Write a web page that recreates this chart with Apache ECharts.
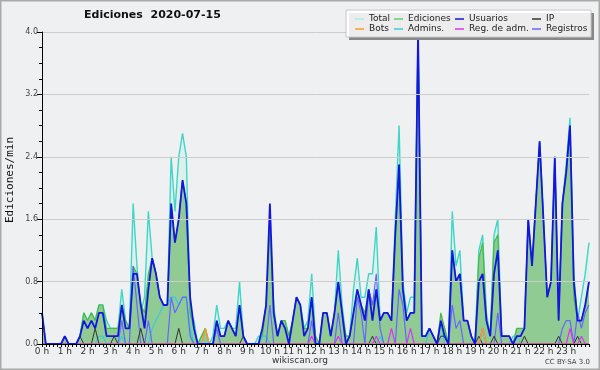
<!DOCTYPE html>
<html><head><meta charset="utf-8">
<script src="https://cdn.jsdelivr.net/npm/echarts@6/dist/echarts.min.js"></script>
<style>html,body{margin:0;padding:0;background:#eef0f1}#c{width:600px;height:370px}</style>
</head><body><div id="c"></div>
<script>
// 10-minute buckets, 00:00 .. 24:00
const hourLabels = ['0 h','1 h','2 h','3 h','4 h','5 h','6 h','7 h','8 h','9 h','10 h','11 h','12 h','13 h','14 h','15 h','16 h','17 h','18 h','19 h','20 h','21 h','22 h','23 h',''];
const yTicks = [0, 0.8, 1.6, 2.4, 3.2, 4.0];
const categories = [];
for (let i = 0; i <= 144; i++) categories.push(String(Math.floor(i/6)).padStart(2,'0') + ':' + String((i%6)*10).padStart(2,'0'));

const total = [
0.4,0,0,0,0,0,0.1,0,0,0,
0.1,0.4,0.3,0.4,0.3,0.5,0.5,0.3,0.2,0.2,
0.2,0.7,0.3,0.2,1.8,1.0,0.4,0.6,1.7,1.1,
0.9,0.6,0.5,0.5,2.4,1.7,2.4,2.7,2.4,0.4,
0.3,0,0.1,0.2,0,0.1,0.5,0.2,0.2,0.3,
0.2,0.2,0.8,0.1,0,0,0,0.1,0.1,0.5,
1.5,0.5,0.1,0.3,0.3,0.1,0.3,0.6,0.5,0.2,
0.3,0.9,0.1,0,0.4,0.4,0.1,0.4,1.2,0.5,
0.1,0.1,0.7,1.1,0.6,0.6,0.9,0.9,1.5,0.3,
0.4,0.3,0.3,1.6,2.8,0.8,0.4,0.6,0.6,4.0,
0.1,0.1,0.2,0.1,0,0.3,0.2,0,1.7,1.0,
1.2,0.3,0.3,0.1,0,1.2,1.4,0.4,0.1,1.4,
1.6,0.1,0.1,0.1,0,0.2,0.1,0.2,1.6,1.0,
1.8,2.6,1.6,0.6,0.8,2.4,0.3,1.8,2.3,2.9,
0.9,0.3,0.6,0.9,1.3
];
const ediciones = [
0.4,0,0,0,0,0,0.1,0,0,0,
0.1,0.4,0.3,0.4,0.3,0.5,0.5,0.2,0.2,0.2,
0.2,0.5,0.3,0.2,1.0,0.9,0.5,0.4,0.9,1.1,
0.9,0.6,0.5,0.5,1.8,1.3,1.6,2.1,1.8,0.4,
0.2,0,0.1,0.2,0,0,0.3,0.1,0.1,0.3,
0.2,0.1,0.5,0.1,0,0,0,0,0.1,0.5,
1.5,0.4,0.1,0.3,0.3,0.1,0.3,0.6,0.5,0.2,
0.2,0.6,0.1,0,0.4,0.4,0.1,0.4,0.8,0.4,
0.1,0.1,0.4,0.7,0.5,0.4,0.7,0.5,0.7,0.3,
0.4,0.4,0.3,1.4,2.3,0.7,0.3,0.4,0.4,4.0,
0.1,0.1,0.2,0.1,0,0.4,0.2,0,1.2,0.8,
0.9,0.3,0.3,0.1,0,1.1,1.3,0.3,0.1,1.3,
1.4,0.1,0.1,0.1,0,0.2,0.2,0.2,1.6,1.0,
1.8,2.6,1.6,0.6,0.8,2.4,0.3,1.8,2.2,2.8,
0.6,0.3,0.3,0.5,0.8
];
const usuarios = [
0.4,0,0,0,0,0,0.1,0,0,0,
0.1,0.3,0.2,0.3,0.2,0.4,0.4,0.1,0.1,0.1,
0.1,0.5,0.2,0.2,0.9,0.9,0.5,0.2,0.7,1.1,
0.9,0.6,0.5,0.5,1.8,1.3,1.6,2.1,1.8,0.6,
0.2,0,0,0,0,0,0.3,0.1,0.1,0.3,
0.2,0.1,0.5,0.1,0,0,0,0,0.2,0.5,
1.8,0.4,0.1,0.3,0.2,0,0.3,0.6,0.5,0.1,
0.2,0.6,0,0,0.4,0.4,0.1,0.4,0.8,0.4,
0,0.1,0.4,0.7,0.5,0.3,0.7,0.3,0.7,0.3,
0.4,0.4,0.3,1.4,2.3,0.7,0.3,0.4,0.4,4.0,
0.1,0.1,0.2,0.1,0,0.3,0.1,0,1.2,0.8,
0.9,0.3,0.3,0.1,0,0.8,0.9,0.3,0.1,0.9,
1.2,0.1,0.1,0.1,0,0.1,0.1,0.2,1.6,1.0,
1.8,2.6,1.6,0.6,0.8,2.4,0.3,1.8,2.2,2.8,
0.8,0.3,0.3,0.5,0.8
];
const ip = [
0,0,0,0,0,0,0,0,0,0,
0.1,0,0,0,0.2,0,0,0,0,0.1,
0,0,0,0,0,0,0.2,0,0,0,
0,0,0,0,0,0,0.2,0,0,0,
0,0,0,0,0,0,0,0,0,0,
0,0,0,0.1,0,0,0,0,0,0,
0,0,0,0,0,0,0,0,0,0,
0,0,0,0,0,0,0,0,0,0,
0,0,0,0,0,0,0,0.1,0,0,
0,0,0,0,0,0,0,0,0,0,
0,0,0,0,0,0.1,0.1,0,0,0,
0,0,0,0,0,0.1,0,0,0,0.1,
0,0,0,0,0,0,0,0.1,0,0,
0,0,0,0,0,0,0.1,0,0,0,
0,0.1,0,0,0
];
const bots = [
0,0,0,0,0,0,0,0,0,0,
0,0,0,0,0,0,0,0,0,0,
0,0,0,0,0,0,0,0,0,0,
0,0,0,0,0,0,0,0,0,0,
0,0,0,0.2,0,0,0,0,0,0,
0,0,0,0,0,0,0,0,0,0,
0,0,0,0,0,0,0,0,0,0,
0,0,0,0,0,0,0,0,0,0,
0,0,0,0,0,0,0,0,0,0,
0,0,0,0,0,0,0,0,0,0,
0,0,0,0,0,0,0,0,0,0,
0,0,0,0,0,0,0.2,0,0,0,
0,0,0,0,0,0,0,0,0,0,
0,0,0,0,0,0,0,0,0,0,
0,0,0,0,0
];
const admins = [
0,0,0,0,0,0,0,0,0,0,
0,0,0,0,0,0.1,0.1,0,0,0,
0,0.1,0,0,0,0,0,0,0,0.2,
0.3,0.4,0.5,0.5,0.6,0.6,0.5,0.6,0.6,0.2,
0,0,0,0,0,0,0,0,0,0,
0,0,0,0,0,0,0,0,0.1,0.1,
0,0,0,0,0,0,0,0,0,0,
0,0,0,0,0,0,0,0,0,0,
0,0,0,0,0,0,0,0,0,0.1,
0,0,0,0,0,0,0,0,0,0,
0,0,0.2,0.1,0,0.3,0,0,0,0,
0,0,0,0,0,0,0,0,0,0,
0,0,0,0,0.1,0.1,0,0,0,0,
0,0,0,0,0,0,0,0,0,0,
0,0,0,0,0
];
const regAdm = [
0,0,0,0,0,0,0,0,0,0,
0,0,0,0,0,0,0,0,0,0,
0,0,0,0,0,0,0,0,0,0,
0,0,0,0,0,0,0,0,0,0,
0,0,0,0,0,0,0,0,0,0,
0,0,0,0,0,0,0,0,0,0,
0,0,0,0,0,0,0,0,0,0,
0,0.1,0,0,0,0,0,0,0.1,0,
0,0,0,0,0,0,0,0,0.1,0,
0,0,0.2,0,0,0,0,0.2,0,0,
0,0,0,0,0,0,0,0,0,0,
0,0,0,0,0,0,0,0,0,0,
0,0,0,0,0,0,0,0,0,0,
0,0,0,0,0,0,0,0,0,0.2,
0,0,0.1,0,0
];
const registros = [
0,0,0,0,0,0,0,0,0,0,
0,0,0,0,0,0,0,0,0,0,
0,0.3,0,0,1.0,0.5,0,0,0.3,0,
0,0,0,0,0.6,0.4,0.5,0.6,0.6,0.1,
0,0,0,0,0,0,0.2,0,0,0,
0,0,0,0,0,0,0,0,0,0,
0.5,0,0,0,0,0,0,0,0,0,
0,0.3,0,0,0,0,0,0,0.4,0,
0,0,0,0.6,0.4,0,0.7,0.5,0.9,0.2,
0,0,0,0,0.7,0.5,0,0,0,0,
0,0,0,0,0,0,0,0,0.5,0.2,
0.3,0,0,0,0,0,0.2,0,0,0,
0.4,0,0,0,0,0,0,0,0,0,
0,0,0,0,0,0,0,0.2,0.3,0.3,
0,0.4,0.2,0.4,0.5
];

const FONT = 'DejaVu Sans';
function line(name, data, color, width, z, extra) {
  return Object.assign({
    name, type: 'line', data, showSymbol: false, symbol: 'none', z,
    itemStyle: { color }, lineStyle: { color, width }, animation: false
  }, extra || {});
}
const series = [
  line('Total', total, '#aee8e4', 1.4, 2, { lineStyle: { color: '#3fd6c8', width: 1.4 }, areaStyle: { color: 'rgba(205,240,232,0.75)' } }),
  line('Ediciones', ediciones, '#66cc66', 1.2, 3, { areaStyle: { color: '#90cb94', opacity: 1 }, lineStyle: { color: '#44bb44', width: 1.2 } }),
  line('Admins.', admins, '#33ccdd', 1.2, 4),
  line('Registros', registros, '#6666ff', 1.2, 5),
  line('IP', ip, '#333333', 1, 6),
  line('Bots', bots, '#ff9922', 1.2, 6),
  line('Reg. de adm.', regAdm, '#dd33ee', 1.2, 6),
  line('Usuarios', usuarios, '#1515e0', 1.8, 7)
];
function leg(left, names) {
  return { orient: 'vertical', left, top: 14, itemGap: 0, itemWidth: 9, itemHeight: 1.5, icon: 'rect', padding: 0, z: 60,
    data: names, selectedMode: false, textStyle: { fontFamily: FONT, fontSize: 9, color: '#222', lineHeight: 10 } };
}
const chart = echarts.init(document.getElementById('c'), null, { renderer: 'canvas' });
chart.setOption({
  animation: false,
  backgroundColor: '#eef0f1',
  title: { text: 'Ediciones  2020-07-15', left: 84, top: 10, padding: 0, textStyle: { fontFamily: FONT, fontSize: 11, fontWeight: 'bold', color: '#111' } },
  grid: { left: 42, right: 11, top: 32, bottom: 26, containLabel: false },
  legend: [
    leg(355, ['Total', 'Bots']),
    leg(394, ['Ediciones', 'Admins.']),
    leg(455, ['Usuarios', 'Reg. de adm.']),
    leg(532, ['IP', 'Registros'])
  ],
  xAxis: {
    type: 'category', data: categories, boundaryGap: false, z: 20,
    axisLine: { lineStyle: { color: '#000', width: 1.2 } },
    axisTick: { interval: 0, length: 3, lineStyle: { color: '#000' } },
    axisLabel: { interval: 5, margin: 3, fontFamily: FONT, fontSize: 9, color: '#333',
      formatter: (v, idx) => hourLabels[idx / 6] || '' },
    splitLine: { show: false }
  },
  yAxis: {
    type: 'value', min: 0, max: 4, interval: 0.8, z: 20,
    axisLine: { show: true, lineStyle: { color: '#000', width: 1 } },
    axisTick: { show: true, length: 5, lineStyle: { color: '#000' } },
    minorTick: { show: true, splitNumber: 4, length: 3, lineStyle: { color: '#000' } },
    axisLabel: { fontFamily: FONT, fontSize: 8, color: '#444', margin: 4, formatter: v => v.toFixed(1) },
    splitLine: { show: true, lineStyle: { color: '#cccccc', width: 1 } }
  },
  graphic: [
    { type: 'rect', z: 50, shape: { x: 349, y: 13, width: 245, height: 27 }, style: { fill: '#888' } },
    { type: 'rect', z: 51, shape: { x: 346, y: 10, width: 245, height: 27 }, style: { fill: 'rgba(255,255,255,0.85)', stroke: '#c8c8c8', lineWidth: 1 } },
    { type: 'text', z: 60, x: 10, y: 180, rotation: Math.PI / 2, style: { text: 'Ediciones/min', fontFamily: 'DejaVu Sans Mono', fontSize: 11, fill: '#111', textAlign: 'center', textVerticalAlign: 'middle' } },
    { type: 'text', z: 60, x: 300, y: 361, style: { text: 'wikiscan.org', fontFamily: FONT, fontSize: 9, fill: '#333', textAlign: 'center', textVerticalAlign: 'middle' } },
    { type: 'text', z: 60, x: 590, y: 362, style: { text: 'CC BY-SA 3.0', fontFamily: FONT, fontSize: 7, fill: '#444', textAlign: 'right', textVerticalAlign: 'middle' } },
    { type: 'rect', z: 70, shape: { x: 0.5, y: 0.5, width: 599, height: 369 }, style: { fill: 'none', stroke: '#aaaaaa', lineWidth: 2 } }
  ],
  series
});
</script></body></html>
